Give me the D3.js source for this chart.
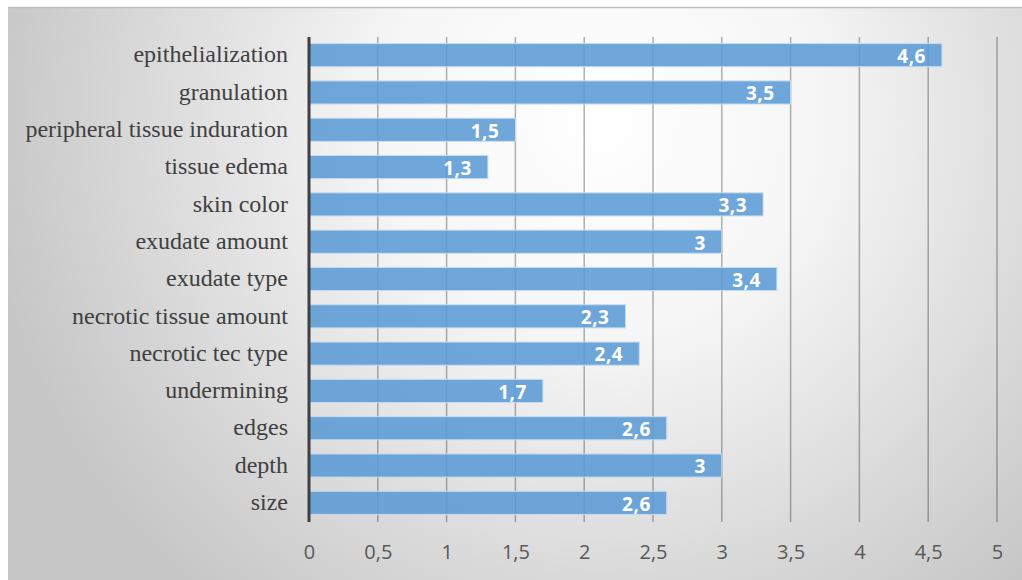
<!DOCTYPE html>
<html><head><meta charset="utf-8">
<script src="https://cdn.jsdelivr.net/npm/d3@7"></script>
<style>body{margin:0;background:#fff}svg{display:block}</style>
</head><body>
<script>
const categories = ["epithelialization","granulation","peripheral tissue induration","tissue edema","skin color","exudate amount","exudate type","necrotic tissue amount","necrotic tec type","undermining","edges","depth","size"];
const values = [4.6,3.5,1.5,1.3,3.3,3,3.4,2.3,2.4,1.7,2.6,3,2.6];
const tickValues = [0,0.5,1,1.5,2,2.5,3,3.5,4,4.5,5];

const W=1022,H=580;
const svg=d3.select("body").append("svg").attr("width",W).attr("height",H);
const defs=svg.append("defs");
const g1=defs.append("radialGradient").attr("id","bg").attr("gradientUnits","userSpaceOnUse")
  .attr("cx",600).attr("cy",120).attr("r",620);
g1.append("stop").attr("offset","0").attr("stop-color","#ffffff");
g1.append("stop").attr("offset","0.35").attr("stop-color","#f6f6f6");
g1.append("stop").attr("offset","1").attr("stop-color","#c6c6c6");
svg.append("rect").attr("x",8).attr("y",7).attr("width",W-8).attr("height",H-7).attr("fill","url(#bg)");
svg.append("line").attr("x1",8).attr("x2",W).attr("y1",7.5).attr("y2",7.5).attr("stroke","#bfbfbf").attr("stroke-width",1.5);

const fmt=v=>String(v).replace(".",",");
const x=d3.scaleLinear().domain([0,5]).range([309,997]);
const y=d3.scaleBand().domain(categories).range([36.5,521.5]).paddingInner(0.38).paddingOuter(0.19);

// gridlines
svg.append("g").selectAll("line").data(tickValues.slice(1)).join("line")
  .attr("x1",d=>x(d)).attr("x2",d=>x(d)).attr("y1",37).attr("y2",522)
  .attr("stroke","#000").attr("stroke-opacity",0.3).attr("stroke-width",1.5);

// bars
svg.append("g").selectAll("rect").data(values).join("rect")
  .attr("x",x(0)).attr("y",(d,i)=>y(categories[i]))
  .attr("width",d=>x(d)-x(0)).attr("height",y.bandwidth())
  .attr("fill","#5b9bd5").attr("fill-opacity",0.88)
  .attr("stroke","#c5dcf0").attr("stroke-width",1);

// data labels
svg.append("g").selectAll("text").data(values).join("text")
  .attr("x",d=>x(d)-16).attr("y",(d,i)=>y(categories[i])+y.bandwidth()/2+1)
  .attr("dy","0.36em").attr("text-anchor","end")
  .attr("font-family","'Open Sans',sans-serif").attr("font-weight","bold").attr("font-size",19)
  .attr("letter-spacing",0.5)
  .attr("fill","#fff").text(fmt);

// y axis line
svg.append("line").attr("x1",x(0)).attr("x2",x(0)).attr("y1",37).attr("y2",522)
  .attr("stroke","#404040").attr("stroke-width",3);

// category labels
const yAxis=d3.axisLeft(y).tickSize(0).tickPadding(21);
const ya=svg.append("g").attr("transform",`translate(${x(0)},0)`).call(yAxis);
ya.select(".domain").remove();
ya.selectAll("text").attr("font-family","'Liberation Serif','Times New Roman',serif")
  .attr("font-size",24).attr("fill","#404040").attr("dy","0.3em");

// x tick labels
const xAxis=d3.axisBottom(x).tickValues(tickValues).tickFormat(fmt).tickSize(0).tickPadding(0);
const xa=svg.append("g").attr("transform","translate(0,552)").call(xAxis);
xa.select(".domain").remove();
xa.selectAll("text").attr("font-family","'Open Sans',sans-serif").attr("font-size",20)
  .attr("fill","#595959").attr("dy","0.36em").attr("y",0);
</script>
</body></html>
